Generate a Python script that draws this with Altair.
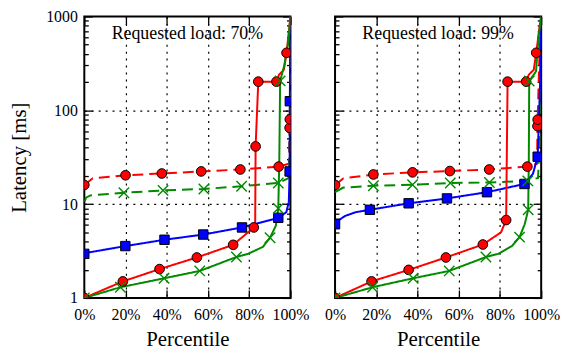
import altair as alt
import pandas as pd

PANEL_TITLES = ["Requested load: 70%", "Requested load: 99%"]
SERIES = ["red_dashed", "green_dashed", "blue", "red", "green"]
COLORS = ["#ff0000", "#008a00", "#0000ff", "#ff0000", "#008a00"]
DASHES = [[11, 6], [11, 6], [1, 0], [1, 0], [1, 0]]

X_TICKS = [0, 20, 40, 60, 80, 100]
X_GRID = [20, 40, 60, 80]
Y_MAJOR = [1, 10, 100, 1000]
Y_MINOR = [2, 3, 4, 5, 6, 7, 8, 9, 20, 30, 40, 50, 60, 70, 80, 90,
           200, 300, 400, 500, 600, 700, 800, 900]
Y_GRID = [10, 100]

# ---------- panel A: requested load 70% ----------
A_RED_DASH_X = [0, 4, 20, 37.6, 56.7, 75.7, 94.3, 99.3, 99.6, 99.7, 99.9, 100]
A_RED_DASH_Y = [16, 18.8, 20.3, 21.2, 22.3, 23.4, 25.1, 27, 65, 80, 300, 1000]
A_RED_DASH_MX = [0, 20, 37.6, 56.7, 75.7, 94.3, 99.6, 99.7]
A_RED_DASH_MY = [16, 20.3, 21.2, 22.3, 23.4, 25.1, 65, 80]

A_GREEN_DASH_X = [0, 1, 3, 19.2, 38.2, 58, 76.3, 94.1, 99.3, 99.6, 99.8, 100]
A_GREEN_DASH_Y = [10.6, 11.8, 12.4, 13.2, 14.0, 14.5, 15.5, 16.8, 19, 40, 150, 1000]
A_GREEN_DASH_MX = [19.2, 38.2, 58, 76.3, 94.1]
A_GREEN_DASH_MY = [13.2, 14.0, 14.5, 15.5, 16.8]

A_BLUE_X = [0, 2, 19.9, 38.9, 57.7, 76.5, 94.1, 98, 99.2, 99.5, 99.6, 99.7, 100]
A_BLUE_Y = [2.95, 3.05, 3.57, 4.17, 4.74, 5.64, 7.14, 8.2, 10.5, 18, 22.3, 125, 1000]
A_BLUE_MX = [0, 19.9, 38.9, 57.7, 76.5, 94.1, 99.6, 99.7]
A_BLUE_MY = [2.95, 3.57, 4.17, 4.74, 5.64, 7.14, 22.3, 125]

A_RED_X = [0, 18.7, 36.5, 54.6, 72.2, 79.4, 82.2, 82.9, 83.1, 84.4, 93.2, 94.5, 96.8, 98.1, 99.3, 100]
A_RED_Y = [1, 1.50, 2.03, 2.70, 3.68, 5.0, 5.64, 6.5, 41.2, 202, 202, 240, 270, 410, 700, 1000]
A_RED_MX = [0, 18.7, 36.5, 54.6, 72.2, 82.2, 83.1, 84.4, 93.2, 98.1]
A_RED_MY = [1, 1.50, 2.03, 2.70, 3.68, 5.64, 41.2, 202, 202, 410]

A_GREEN_X = [0, 17.5, 38.7, 56, 73.8, 79.4, 86.6, 90.1, 92.9, 94.1, 94.6, 95, 97, 98.8, 100]
A_GREEN_Y = [1, 1.30, 1.62, 1.94, 2.73, 2.95, 3.5, 4.38, 5.87, 9.0, 30, 206, 300, 508, 1000]
A_GREEN_MX = [0, 17.5, 38.7, 56, 73.8, 90.1, 94.1, 95]
A_GREEN_MY = [1, 1.30, 1.62, 1.94, 2.73, 4.38, 9.0, 206]

# ---------- panel B: requested load 99% ----------
B_RED_DASH_X = [0, 4, 18.6, 37.6, 55.7, 74.8, 93.3, 98, 98.2, 98.3, 99, 100]
B_RED_DASH_Y = [16, 18.8, 20.7, 21.8, 22.5, 23.4, 25.1, 27, 67.8, 79.5, 300, 1000]
B_RED_DASH_MX = [0, 18.6, 37.6, 55.7, 74.8, 93.3, 98.2, 98.3]
B_RED_DASH_MY = [16, 20.7, 21.8, 22.5, 23.4, 25.1, 67.8, 79.5]

B_GREEN_DASH_X = [0, 4, 18.6, 37.6, 55.9, 74.9, 93.5, 98.5, 99.3, 100]
B_GREEN_DASH_Y = [13.4, 15.0, 15.7, 16.1, 16.8, 17.0, 17.7, 19, 60, 1000]
B_GREEN_DASH_MX = [18.6, 37.6, 55.9, 74.9, 93.5]
B_GREEN_DASH_MY = [15.7, 16.1, 16.8, 17.0, 17.7]

B_BLUE_X = [0, 2, 5, 10, 16.9, 35.7, 54.3, 73.7, 91.9, 96, 98.3, 99.5, 100]
B_BLUE_Y = [6.1, 6.8, 7.5, 8.2, 8.7, 10.2, 11.5, 13.4, 16.4, 21, 32, 200, 1000]
B_BLUE_MX = [0, 16.9, 35.7, 54.3, 73.7, 91.9, 98.3]
B_BLUE_MY = [6.1, 8.7, 10.2, 11.5, 13.4, 16.4, 32]

B_RED_X = [0, 17.7, 35.7, 53.8, 71.7, 80.5, 83, 83.7, 92.7, 94, 96.4, 97.6, 99.3, 100]
B_RED_Y = [1, 1.50, 1.99, 2.70, 3.71, 5.0, 6.76, 202, 202, 240, 270, 410, 800, 1000]
B_RED_MX = [0, 17.7, 35.7, 53.8, 71.7, 83, 83.7, 92.7, 97.6]
B_RED_MY = [1, 1.50, 1.99, 2.70, 3.71, 6.76, 202, 202, 410]

B_GREEN_X = [0, 18.2, 37.9, 55.4, 73.2, 79.2, 86, 89.5, 92, 93.7, 94.0, 94.2, 97.5, 98.7, 100]
B_GREEN_Y = [1, 1.30, 1.62, 1.94, 2.73, 2.95, 3.6, 4.45, 6.1, 8.7, 30, 205, 260, 595, 1000]
B_GREEN_MX = [0, 18.2, 37.9, 55.4, 73.2, 89.5, 93.7, 94.2]
B_GREEN_MY = [1, 1.30, 1.62, 1.94, 2.73, 4.45, 8.7, 205]

PANEL_LINES = [
    [(A_RED_DASH_X, A_RED_DASH_Y), (A_GREEN_DASH_X, A_GREEN_DASH_Y), (A_BLUE_X, A_BLUE_Y),
     (A_RED_X, A_RED_Y), (A_GREEN_X, A_GREEN_Y)],
    [(B_RED_DASH_X, B_RED_DASH_Y), (B_GREEN_DASH_X, B_GREEN_DASH_Y), (B_BLUE_X, B_BLUE_Y),
     (B_RED_X, B_RED_Y), (B_GREEN_X, B_GREEN_Y)],
]
PANEL_MARKS = [
    [(A_RED_DASH_MX, A_RED_DASH_MY), (A_GREEN_DASH_MX, A_GREEN_DASH_MY), (A_BLUE_MX, A_BLUE_MY),
     (A_RED_MX, A_RED_MY), (A_GREEN_MX, A_GREEN_MY)],
    [(B_RED_DASH_MX, B_RED_DASH_MY), (B_GREEN_DASH_MX, B_GREEN_DASH_MY), (B_BLUE_MX, B_BLUE_MY),
     (B_RED_MX, B_RED_MY), (B_GREEN_MX, B_GREEN_MY)],
]

FONT = "Liberation Serif"
W, H = 208, 284
XS = alt.Scale(domain=[0, 100], nice=False, zero=False)
YS = alt.Scale(type="log", domain=[1, 1000], nice=False)
TICK = dict(tickColor="black", tickWidth=1.3, domain=False, grid=False, minExtent=0)
LAB = dict(labelFont=FONT, labelFontSize=16, labelColor="black",
           titleFont=FONT, titleFontSize=21, titleFontWeight="normal", titleColor="black")
GRID = dict(grid=True, gridDash=[2, 5], gridColor="black", gridWidth=1.2, gridOpacity=1,
            ticks=False, labels=False, domain=False, title=None, minExtent=0)


def frame_df(pairs):
    rows = []
    for s, (xs, ys) in zip(SERIES, pairs):
        for i, (x, y) in enumerate(zip(xs, ys)):
            rows.append({"series": s, "x": x, "y": y, "i": i})
    return pd.DataFrame(rows)


def panel(p):
    lines = frame_df(PANEL_LINES[p])
    marks = frame_df(PANEL_MARKS[p])
    first = p == 0

    x_main = alt.Axis(values=X_TICKS, labelExpr="datum.value + '%'", title="Percentile",
                      orient="bottom", offset=-8, tickSize=8, labelPadding=9, titlePadding=6,
                      labelFlush=False, labelOverlap=False, **TICK, **LAB)
    if first:
        y_main = alt.Axis(values=Y_MAJOR, format="d", title="Latency [ms]", orient="left",
                          offset=-8, tickSize=8, labelPadding=7, titlePadding=16,
                          labelFlush=False, labelOverlap=False, **TICK, **LAB)
    else:
        y_main = alt.Axis(values=Y_MAJOR, labels=False, title=None, orient="left",
                          offset=-8, tickSize=8, **TICK)

    line = alt.Chart(lines).mark_line(strokeWidth=2, clip=True).encode(
        x=alt.X("x:Q", scale=XS, axis=x_main),
        y=alt.Y("y:Q", scale=YS, axis=y_main),
        color=alt.Color("series:N", scale=alt.Scale(domain=SERIES, range=COLORS), legend=None),
        strokeDash=alt.StrokeDash("series:N", scale=alt.Scale(domain=SERIES, range=DASHES),
                                  legend=None),
        order="i:Q",
    )

    def ghost(xaxis, yaxis):
        return alt.Chart(lines).mark_point(opacity=0, size=1, clip=True).encode(
            x=alt.X("x:Q", scale=XS, axis=xaxis),
            y=alt.Y("y:Q", scale=YS, axis=yaxis),
        )

    g1 = ghost(
        alt.Axis(values=X_TICKS, orient="top", offset=-8, tickSize=8, labels=False,
                 title=None, **TICK),
        alt.Axis(values=Y_MINOR, orient="left", offset=-4, tickSize=4, labels=False,
                 title=None, **TICK),
    )
    g2 = ghost(
        alt.Axis(values=X_GRID, orient="bottom", **GRID),
        alt.Axis(values=Y_MAJOR, orient="right", offset=-8, tickSize=8, labels=False,
                 title=None, **TICK),
    )
    g3 = ghost(
        None,
        alt.Axis(values=Y_MINOR, orient="right", offset=-4, tickSize=4, labels=False,
                 title=None, **TICK),
    )
    g4 = ghost(
        None,
        alt.Axis(values=Y_GRID, orient="left", **GRID),
    )

    enc = dict(x=alt.X("x:Q", scale=XS, axis=None), y=alt.Y("y:Q", scale=YS, axis=None))
    circles = alt.Chart(marks).transform_filter(
        alt.FieldOneOfPredicate(field="series", oneOf=["red_dashed", "red"])
    ).mark_circle(color="#ff0000", stroke="black", strokeWidth=1, size=95, opacity=1,
                  clip=True).encode(**enc)
    squares = alt.Chart(marks).transform_filter(
        alt.FieldEqualPredicate(field="series", equal="blue")
    ).mark_square(color="#0000ff", stroke="black", strokeWidth=1, size=90, opacity=1,
                  clip=True).encode(**enc)
    crosses = alt.Chart(marks).transform_filter(
        alt.FieldOneOfPredicate(field="series", oneOf=["green_dashed", "green"])
    ).mark_point(shape="M-1,-1L1,1M-1,1L1,-1", stroke="#008a00", strokeWidth=1.4, size=110,
                 opacity=1, filled=False, clip=True).encode(**enc)

    label = alt.Chart(pd.DataFrame({"t": [PANEL_TITLES[p]]})).mark_text(
        font=FONT, fontSize=18, color="black", baseline="alphabetic", align="center"
    ).encode(text="t:N", x=alt.value(W / 2), y=alt.value(23))

    return alt.layer(g4, g2, line, g1, g3, circles, squares, crosses, label).resolve_axis(
        x="independent", y="independent"
    ).properties(width=W, height=H)


chart = alt.hconcat(panel(0), panel(1), spacing=13).properties(
    padding={"left": 0, "top": -2, "right": 0, "bottom": 0}
).configure_view(
    stroke="black", strokeWidth=2
)

chart.save("out.html", embed_options={"renderer": "svg", "actions": False})
